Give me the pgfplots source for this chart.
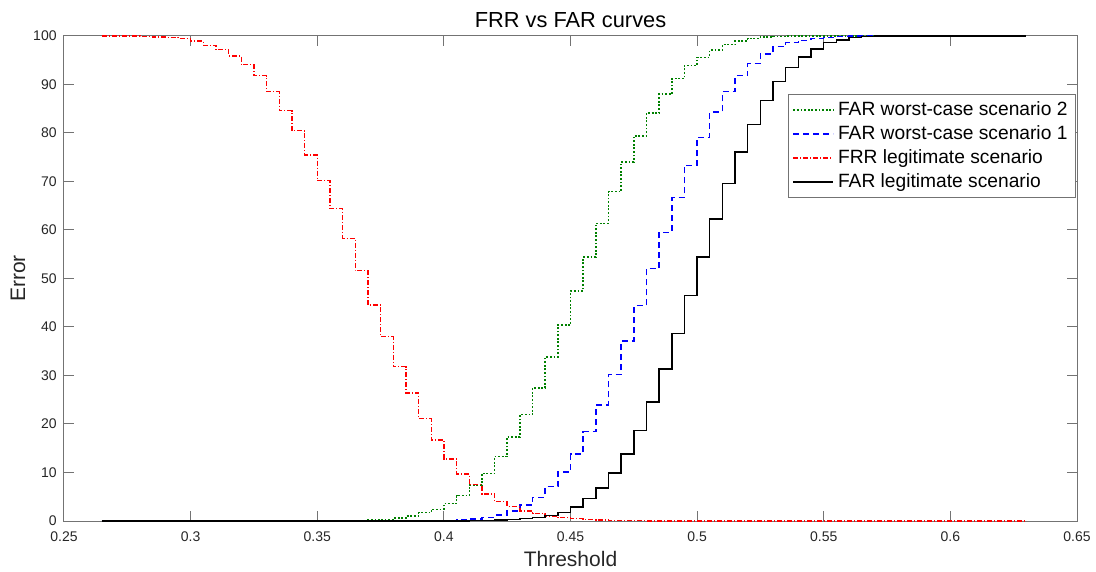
\documentclass[border=0pt]{standalone}
\usepackage{fontspec}
\setmainfont{Liberation Sans}
\usepackage{pgfplots}
\pgfplotsset{compat=1.18}
\definecolor{mgreen}{rgb}{0,0.5,0}
\definecolor{axgray}{rgb}{0.15,0.15,0.15}
\begin{document}
\begin{tikzpicture}
\begin{axis}[
  name=ax,
  scale only axis,
  width=506.5pt, height=242.5pt,
  xmin=0.25, xmax=0.65, ymin=0, ymax=100,
  xtick={0.25,0.3,...,0.65},
  xticklabels={0.25,0.3,0.35,0.4,0.45,0.5,0.55,0.6,0.65},
  ytick={0,10,...,100},
  tick align=inside,
  major tick length=5pt,
  axis line style={black!55, line width=0.5pt},
  every tick/.style={black!55, line width=0.5pt},
  /pgf/number format/assume math mode=true,
  tick label style={font=\fontsize{7}{7.5}\selectfont, text=axgray},
  xticklabel style={anchor=base, yshift=-10.2pt},
  yticklabel style={anchor=east, inner sep=0pt, xshift=-3.5pt},
  every axis title shift=0pt,
  title={FRR vs FAR curves},
  title style={at={(axis description cs:0.5,1.018)}, anchor=base, font=\fontsize{10.9}{12}\selectfont, inner sep=0pt},
  xlabel={Threshold},
  xlabel style={at={(axis description cs:0.5,-0.094)}, anchor=base, font=\fontsize{10.5}{12}\selectfont, inner sep=0pt, text=axgray},
  ylabel={Error},
  ylabel style={at={(axis description cs:-0.0385,0.5)}, anchor=base, rotate=0, font=\fontsize{10.5}{12}\selectfont, inner sep=0pt, text=axgray},
  legend style={at={(axis description cs:0.999,0.880)}, anchor=north east, draw=black!55, line width=0.5pt,
    font=\fontsize{9.6}{11}\selectfont, inner xsep=2pt, inner ysep=1.5pt, row sep=-0.5pt},
  legend cell align=left,
  legend image code/.code={\draw[#1,sharp plot] (0pt,0pt) -- (20pt,0pt);},
  const plot,
]
\addplot[mgreen, line width=0.7pt, dash pattern=on 0.9pt off 0.9pt] coordinates {
(0.265,0) (0.35,0.02) (0.36,0.05) (0.365,0.1) (0.37,0.2) (0.375,0.35) (0.38,0.6)
(0.385,1.0) (0.39,1.7) (0.395,2.4) (0.4,3.6) (0.405,5.2) (0.41,7.4) (0.415,9.8)
(0.42,13.3) (0.425,17.3) (0.43,21.9) (0.435,27.4) (0.44,33.8) (0.445,40.4)
(0.45,47.4) (0.455,54.4) (0.46,61.4) (0.465,67.9) (0.47,74.0) (0.475,79.4)
(0.48,84.1) (0.485,88.0) (0.49,91.2) (0.495,93.9) (0.5,95.6) (0.505,97.1)
(0.51,98.2) (0.515,99.0) (0.52,99.5) (0.525,99.8) (0.53,99.9) (0.535,100) (0.63,100)
};
\addlegendentry{FAR worst-case scenario 2}
\addplot[blue, line width=0.7pt, dash pattern=on 3pt off 2pt] coordinates {
(0.265,0) (0.39,0.02) (0.395,0.05) (0.4,0.1) (0.405,0.2) (0.41,0.4) (0.415,0.75)
(0.42,1.2) (0.425,2.1) (0.43,3.3) (0.435,4.9) (0.44,7.1) (0.445,10.1) (0.45,13.8)
(0.455,18.4) (0.46,23.9) (0.465,30.2) (0.47,37.1) (0.475,44.4) (0.48,52.0)
(0.485,59.5) (0.49,66.7) (0.495,73.3) (0.5,79.1) (0.505,84.3) (0.51,88.5)
(0.515,91.8) (0.52,94.3) (0.525,96.3) (0.53,97.8) (0.535,98.6) (0.54,99.1)
(0.545,99.5) (0.55,99.7) (0.555,99.9) (0.56,100) (0.63,100)
};
\addlegendentry{FAR worst-case scenario 1}
\addplot[red, line width=0.7pt, dash pattern=on 2.5pt off 1pt on 0.5pt off 1pt] coordinates {
(0.265,100) (0.28,99.9) (0.285,99.8) (0.29,99.7) (0.295,99.5) (0.3,99.0)
(0.305,98.1) (0.31,97.2) (0.315,95.9) (0.32,94.1) (0.325,91.8) (0.33,88.5)
(0.335,84.6) (0.34,80.5) (0.345,75.5) (0.35,70.2) (0.355,64.4) (0.36,58.3)
(0.365,51.6) (0.37,44.5) (0.375,38.0) (0.38,31.8) (0.385,26.4) (0.39,21.1)
(0.395,16.7) (0.4,12.8) (0.405,9.7) (0.41,7.5) (0.415,5.6) (0.42,4.0) (0.425,3.0)
(0.43,2.1) (0.435,1.6) (0.44,1.0) (0.445,0.7) (0.45,0.5) (0.455,0.3) (0.46,0.2)
(0.465,0.1) (0.47,0.05) (0.48,0) (0.63,0)
};
\addlegendentry{FRR legitimate scenario}
\addplot[black, line width=0.7pt] coordinates {
(0.265,0) (0.4,0.02) (0.41,0.1) (0.42,0.2) (0.425,0.3) (0.43,0.5) (0.435,0.7)
(0.44,1.1) (0.445,1.8) (0.45,2.9) (0.455,4.6) (0.46,6.8) (0.465,9.9) (0.47,13.8)
(0.475,18.6) (0.48,24.5) (0.485,31.3) (0.49,38.7) (0.495,46.5) (0.5,54.4)
(0.505,62.3) (0.51,69.6) (0.515,76.1) (0.52,81.8) (0.525,86.7) (0.53,90.6)
(0.535,93.5) (0.54,95.7) (0.545,97.3) (0.55,98.6) (0.555,99.2) (0.56,99.7)
(0.565,99.9) (0.57,100) (0.63,100)
};
\addlegendentry{FAR legitimate scenario}
\end{axis}
\pgfresetboundingbox
\path ([shift={(-32pt,-25.5pt)}]ax.south west) rectangle ([shift={(9.5pt,18pt)}]ax.north east);
\end{tikzpicture}
\end{document}
